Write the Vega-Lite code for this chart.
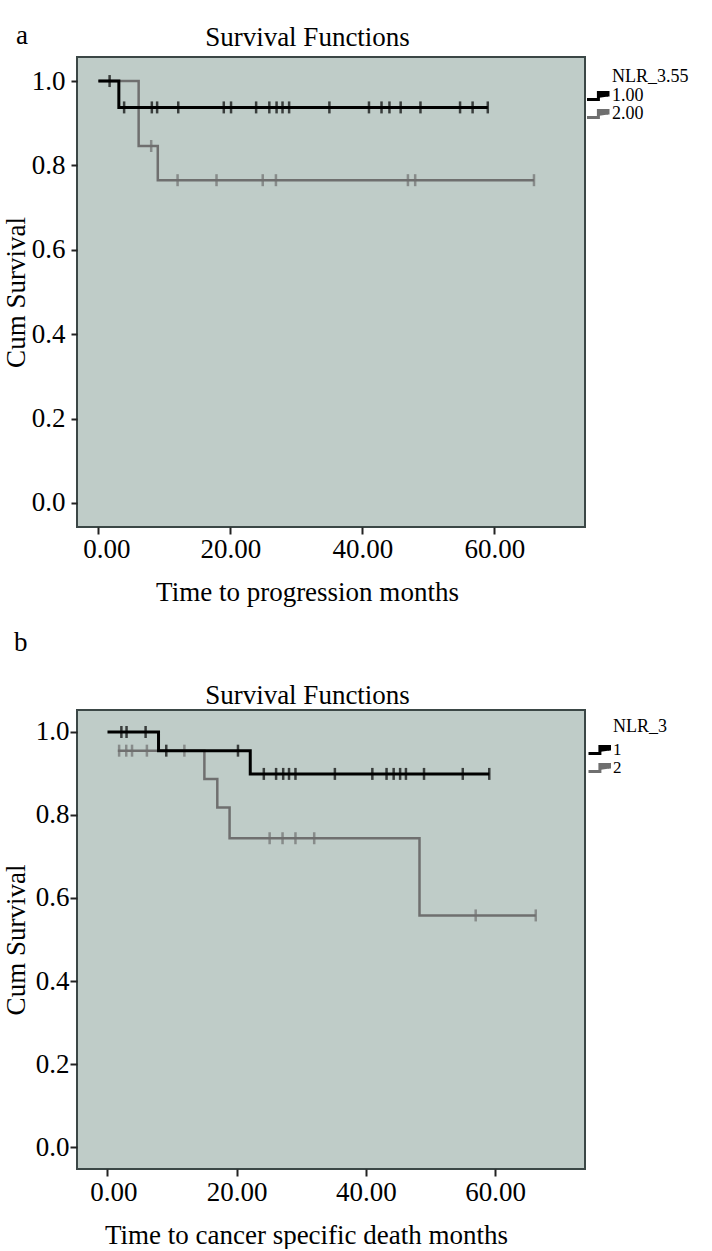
{
  "$schema": "https://vega.github.io/schema/vega-lite/v6.json",
  "background": "white",
  "padding": {"left": 1, "top": 20, "right": 0, "bottom": 0},
  "config": {
    "font": "Liberation Serif",
    "view": {"stroke": "#3b4746", "strokeWidth": 2, "fill": "#bfccc8"},
    "axis": {"labelFontSize": 27, "titleFontSize": 27, "titleFontWeight": "normal", "labelColor": "#000", "titleColor": "#000", "grid": false, "domain": false, "tickColor": "#222", "tickWidth": 2, "labelFont": "Liberation Serif", "titleFont": "Liberation Serif"},
    "legend": {"labelFontSize": 18, "titleFontSize": 18, "titleFontWeight": "normal", "labelColor": "#000", "titleColor": "#000", "labelFont": "Liberation Serif", "titleFont": "Liberation Serif"},
    "title": {"fontSize": 27, "fontWeight": "normal", "color": "#000", "font": "Liberation Serif"}
  },
  "datasets": {
    "a_lines": [
      {"t": 0, "s": 1.0, "g": "1.00"}, {"t": 3.1, "s": 0.9375, "g": "1.00"}, {"t": 59.0, "s": 0.9375, "g": "1.00"},
      {"t": 0, "s": 1.0, "g": "2.00"}, {"t": 6.1, "s": 0.846, "g": "2.00"}, {"t": 9.0, "s": 0.765, "g": "2.00"}, {"t": 66.0, "s": 0.765, "g": "2.00"}
    ],
    "a_cens": [
      {"t": 1.7, "s": 1.0, "g": "1.00"}, {"t": 3.9, "s": 0.9375, "g": "1.00"}, {"t": 8.1, "s": 0.9375, "g": "1.00"}, {"t": 8.9, "s": 0.9375, "g": "1.00"},
      {"t": 12.1, "s": 0.9375, "g": "1.00"}, {"t": 19.0, "s": 0.9375, "g": "1.00"}, {"t": 20.1, "s": 0.9375, "g": "1.00"}, {"t": 23.9, "s": 0.9375, "g": "1.00"},
      {"t": 25.9, "s": 0.9375, "g": "1.00"}, {"t": 27.0, "s": 0.9375, "g": "1.00"}, {"t": 27.9, "s": 0.9375, "g": "1.00"}, {"t": 28.9, "s": 0.9375, "g": "1.00"},
      {"t": 35.0, "s": 0.9375, "g": "1.00"}, {"t": 41.0, "s": 0.9375, "g": "1.00"}, {"t": 42.9, "s": 0.9375, "g": "1.00"}, {"t": 44.1, "s": 0.9375, "g": "1.00"},
      {"t": 45.8, "s": 0.9375, "g": "1.00"}, {"t": 48.8, "s": 0.9375, "g": "1.00"}, {"t": 54.8, "s": 0.9375, "g": "1.00"}, {"t": 56.7, "s": 0.9375, "g": "1.00"},
      {"t": 59.0, "s": 0.9375, "g": "1.00"},
      {"t": 8.0, "s": 0.846, "g": "2.00"}, {"t": 12.0, "s": 0.765, "g": "2.00"}, {"t": 17.9, "s": 0.765, "g": "2.00"}, {"t": 24.9, "s": 0.765, "g": "2.00"},
      {"t": 26.9, "s": 0.765, "g": "2.00"}, {"t": 46.9, "s": 0.765, "g": "2.00"}, {"t": 48.0, "s": 0.765, "g": "2.00"}, {"t": 66.0, "s": 0.765, "g": "2.00"}
    ],
    "b_lines": [
      {"t": 0, "s": 1.0, "g": "1"}, {"t": 7.9, "s": 0.955, "g": "1"}, {"t": 22.1, "s": 0.899, "g": "1"}, {"t": 59.1, "s": 0.899, "g": "1"},
      {"t": 1.6, "s": 0.955, "g": "2"}, {"t": 15.0, "s": 0.887, "g": "2"}, {"t": 17.0, "s": 0.818, "g": "2"}, {"t": 18.9, "s": 0.744, "g": "2"},
      {"t": 48.3, "s": 0.558, "g": "2"}, {"t": 66.3, "s": 0.558, "g": "2"}
    ],
    "b_cens": [
      {"t": 2.15, "s": 1.0, "g": "1"}, {"t": 2.95, "s": 1.0, "g": "1"}, {"t": 5.9, "s": 1.0, "g": "1"}, {"t": 9.1, "s": 0.955, "g": "1"}, {"t": 20.2, "s": 0.955, "g": "1"},
      {"t": 24.2, "s": 0.899, "g": "1"}, {"t": 26.1, "s": 0.899, "g": "1"}, {"t": 27.2, "s": 0.899, "g": "1"}, {"t": 28.1, "s": 0.899, "g": "1"}, {"t": 29.1, "s": 0.899, "g": "1"},
      {"t": 35.2, "s": 0.899, "g": "1"}, {"t": 41.0, "s": 0.899, "g": "1"}, {"t": 43.2, "s": 0.899, "g": "1"}, {"t": 44.3, "s": 0.899, "g": "1"}, {"t": 45.3, "s": 0.899, "g": "1"},
      {"t": 46.2, "s": 0.899, "g": "1"}, {"t": 49.0, "s": 0.899, "g": "1"}, {"t": 55.0, "s": 0.899, "g": "1"}, {"t": 59.1, "s": 0.899, "g": "1"},
      {"t": 1.8, "s": 0.955, "g": "2"}, {"t": 2.9, "s": 0.955, "g": "2"}, {"t": 3.8, "s": 0.955, "g": "2"}, {"t": 6.1, "s": 0.955, "g": "2"}, {"t": 11.9, "s": 0.955, "g": "2"},
      {"t": 25.1, "s": 0.744, "g": "2"}, {"t": 27.1, "s": 0.744, "g": "2"}, {"t": 29.1, "s": 0.744, "g": "2"}, {"t": 32.0, "s": 0.744, "g": "2"},
      {"t": 57.0, "s": 0.558, "g": "2"}, {"t": 66.3, "s": 0.558, "g": "2"}
    ]
  },
  "vconcat": [
    {
      "width": 508,
      "height": 470,
      "title": {"text": "a", "anchor": "start", "frame": "group", "dx": -61, "dy": 47.5, "baseline": "alphabetic", "offset": 0},
      "resolve": {"axis": {"x": "independent"}},
      "layer": [
        {
          "data": {"name": "a_lines"},
          "transform": [{"filter": "datum.g == '2.00'"}],
          "mark": {"type": "line", "interpolate": "step-after", "strokeWidth": 2.5},
          "encoding": {
            "x": {"field": "t", "type": "quantitative", "scale": {"domain": [-3.24, 73.73], "nice": false, "zero": false},
                  "axis": {"values": [0, 20, 40, 60], "format": ".2f", "tickSize": 7, "labelPadding": 2, "title": "Time to progression months", "titlePadding": 17, "titleX": 230, "labelFlush": false,
                           "labelOffset": {"condition": {"test": "datum.value === 0", "value": 8}, "value": 0}}},
            "y": {"field": "s", "type": "quantitative", "scale": {"domain": [-0.057, 1.057], "nice": false, "zero": false},
                  "axis": {"values": [0, 0.2, 0.4, 0.6, 0.8, 1.0], "format": ".1f", "tickSize": 6, "labelPadding": 6, "title": "Cum Survival", "titlePadding": 1}},
            "color": {"field": "g", "type": "nominal", "scale": {"domain": ["1.00", "2.00"], "range": ["#000000", "#6f6f6f"]},
                      "legend": {"title": "NLR_3.55", "orient": "none", "legendX": 507, "legendY": 10.5, "symbolType": "M-1,0.6L0.9,0.6L0.9,-0.6L2.5,-0.6L2.5,0.1", "symbolSize": 144, "symbolStrokeWidth": 3, "symbolFillColor": "transparent", "labelOffset": 10, "titlePadding": 2, "rowPadding": -1, "clipHeight": 17, "padding": 0,
                                 "encode": {"title": {"update": {"dx": {"value": 28}}}}}}
          }
        },
        {
          "data": {"name": "a_cens"},
          "transform": [{"filter": "datum.g == '2.00'"}],
          "mark": {"type": "tick", "orient": "vertical", "size": 12, "thickness": 2.5},
          "encoding": {
            "x": {"field": "t", "type": "quantitative", "axis": null},
            "y": {"field": "s", "type": "quantitative"},
            "color": {"field": "g", "type": "nominal"}
          }
        },
        {
          "data": {"name": "a_lines"},
          "transform": [{"filter": "datum.g == '1.00'"}],
          "mark": {"type": "line", "interpolate": "step-after", "strokeWidth": 3},
          "encoding": {
            "x": {"field": "t", "type": "quantitative", "axis": null},
            "y": {"field": "s", "type": "quantitative"},
            "color": {"field": "g", "type": "nominal"}
          }
        },
        {
          "data": {"name": "a_cens"},
          "transform": [{"filter": "datum.g == '1.00'"}],
          "mark": {"type": "tick", "orient": "vertical", "size": 12, "thickness": 2.5},
          "encoding": {
            "x": {"field": "t", "type": "quantitative",
                  "axis": {"orient": "top", "title": "Survival Functions", "domain": false, "ticks": false, "labels": false, "titleX": 230, "titleY": -12, "titleBaseline": "alphabetic", "titleAlign": "center", "titleAngle": 0}},
            "y": {"field": "s", "type": "quantitative"},
            "color": {"field": "g", "type": "nominal"}
          }
        }
      ]
    },
    {
      "width": 508,
      "height": 459,
      "title": {"text": "b", "anchor": "start", "frame": "group", "dx": -63, "baseline": "alphabetic", "offset": 3.5},
      "resolve": {"axis": {"x": "independent"}},
      "layer": [
        {
          "data": {"name": "b_lines"},
          "transform": [{"filter": "datum.g == '2'"}],
          "mark": {"type": "line", "interpolate": "step-after", "strokeWidth": 2.5},
          "encoding": {
            "x": {"field": "t", "type": "quantitative", "scale": {"domain": [-4.72, 73.92], "nice": false, "zero": false},
                  "axis": {"values": [0, 20, 40, 60], "format": ".2f", "tickSize": 7, "labelPadding": 3, "title": "Time to cancer specific death months", "titlePadding": 17, "titleX": 229, "labelFlush": false,
                           "labelOffset": {"condition": {"test": "datum.value === 0", "value": 6}, "value": 0}}},
            "y": {"field": "s", "type": "quantitative", "scale": {"domain": [-0.053, 1.053], "nice": false, "zero": false},
                  "axis": {"values": [0, 0.2, 0.4, 0.6, 0.8, 1.0], "format": ".1f", "tickSize": 7, "labelPadding": 1, "title": "Cum Survival", "titlePadding": 5}},
            "color": {"field": "g", "type": "nominal", "scale": {"domain": ["1", "2"], "range": ["#000000", "#6f6f6f"]},
                      "legend": {"title": "NLR_3", "orient": "none", "legendX": 509, "legendY": 8, "symbolType": "M-1,0.6L0.9,0.6L0.9,-0.6L2.5,-0.6L2.5,0.1", "symbolSize": 144, "symbolStrokeWidth": 3, "symbolFillColor": "transparent", "labelOffset": 10, "labelFontSize": 17, "titlePadding": 5, "rowPadding": 0, "clipHeight": 18, "padding": 0,
                                 "encode": {"title": {"update": {"dx": {"value": 27}}}}}}
          }
        },
        {
          "data": {"name": "b_cens"},
          "transform": [{"filter": "datum.g == '2'"}],
          "mark": {"type": "tick", "orient": "vertical", "size": 12, "thickness": 2.5},
          "encoding": {
            "x": {"field": "t", "type": "quantitative", "axis": null},
            "y": {"field": "s", "type": "quantitative"},
            "color": {"field": "g", "type": "nominal"}
          }
        },
        {
          "data": {"name": "b_lines"},
          "transform": [{"filter": "datum.g == '1'"}],
          "mark": {"type": "line", "interpolate": "step-after", "strokeWidth": 3},
          "encoding": {
            "x": {"field": "t", "type": "quantitative", "axis": null},
            "y": {"field": "s", "type": "quantitative"},
            "color": {"field": "g", "type": "nominal"}
          }
        },
        {
          "data": {"name": "b_cens"},
          "transform": [{"filter": "datum.g == '1'"}],
          "mark": {"type": "tick", "orient": "vertical", "size": 12, "thickness": 2.5},
          "encoding": {
            "x": {"field": "t", "type": "quantitative",
                  "axis": {"orient": "top", "title": "Survival Functions", "domain": false, "ticks": false, "labels": false, "titleX": 230, "titleY": -7, "titleBaseline": "alphabetic", "titleAlign": "center", "titleAngle": 0}},
            "y": {"field": "s", "type": "quantitative"},
            "color": {"field": "g", "type": "nominal"}
          }
        }
      ]
    }
  ],
  "spacing": 21,
  "resolve": {"scale": {"x": "independent", "y": "independent", "color": "independent"}, "legend": {"color": "independent"}}
}
